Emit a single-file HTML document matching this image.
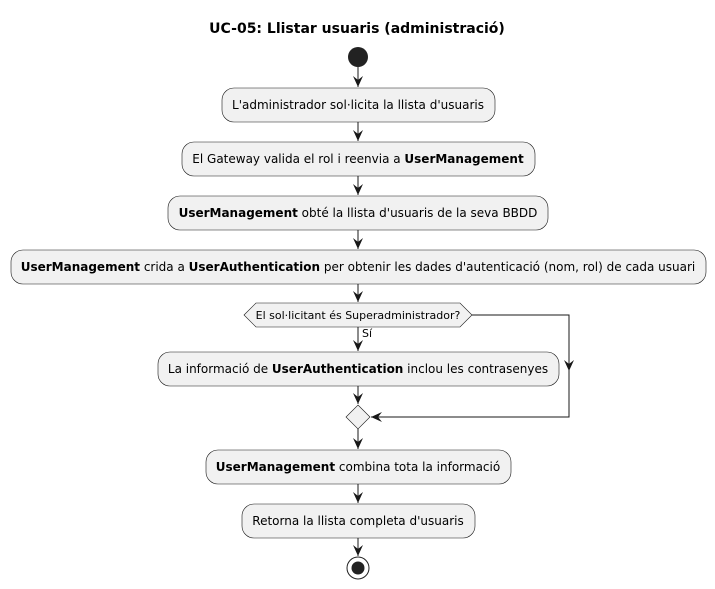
<!DOCTYPE html>
<html><head><meta charset="utf-8"><style>body{margin:0;background:#fff}svg{display:block}text{font-family:"DejaVu Sans","Liberation Sans",sans-serif;font-size:12px;fill:#000}</style></head><body>
<svg width="715" height="589" viewBox="0 0 715 589">
<defs><marker id="a" viewBox="0 0 12 12" refX="11" refY="6" markerWidth="12" markerHeight="12" orient="auto" markerUnits="userSpaceOnUse"><path d="M0,1 L11,6 L0,11 L4,6 Z" fill="#181818"/></marker></defs>
<text x="357" y="33" text-anchor="middle" style="font-size:14px;font-weight:bold">UC-05: Llistar usuaris (administració)</text>
<circle cx="358" cy="57" r="10" fill="#222"/>
<g stroke="#181818" stroke-width="1" fill="none">
<line x1="358" y1="67" x2="358" y2="87" marker-end="url(#a)"/>
<line x1="358" y1="122" x2="358" y2="141" marker-end="url(#a)"/>
<line x1="358" y1="176" x2="358" y2="195" marker-end="url(#a)"/>
<line x1="358" y1="230" x2="358" y2="249" marker-end="url(#a)"/>
<line x1="358" y1="284" x2="358" y2="302" marker-end="url(#a)"/>
<line x1="358" y1="327" x2="358" y2="351" marker-end="url(#a)"/>
<line x1="358" y1="386" x2="358" y2="404" marker-end="url(#a)"/>
<line x1="358" y1="429" x2="358" y2="449" marker-end="url(#a)"/>
<line x1="358" y1="484" x2="358" y2="503" marker-end="url(#a)"/>
<line x1="358" y1="538" x2="358" y2="556" marker-end="url(#a)"/>
<polyline points="472,315 569,315 569,417 371,417" marker-end="url(#a)"/>
<line x1="569" y1="350" x2="569" y2="371" marker-end="url(#a)"/>
</g>
<g fill="#f1f1f1" stroke="#181818" stroke-width="0.6">
<rect x="222" y="88" width="273" height="34" rx="12"/>
<rect x="182" y="142" width="353" height="34" rx="12"/>
<rect x="168" y="196" width="380" height="34" rx="12"/>
<rect x="11" y="250" width="695" height="34" rx="12"/>
<polygon points="244,315 256,303 460,303 472,315 460,327 256,327"/>
<rect x="158" y="352" width="401" height="34" rx="12"/>
<polygon points="358,405 370,417 358,429 346,417"/>
<rect x="206" y="450" width="305" height="34" rx="12"/>
<rect x="242" y="504" width="233" height="34" rx="12"/>
</g>
<text x="358" y="109" text-anchor="middle">L'administrador sol·licita la llista d'usuaris</text>
<text x="358" y="163" text-anchor="middle">El Gateway valida el rol i reenvia a <tspan font-weight="bold">UserManagement</tspan></text>
<text x="358" y="217" text-anchor="middle"><tspan font-weight="bold">UserManagement</tspan> obté la llista d'usuaris de la seva BBDD</text>
<text x="358" y="271" text-anchor="middle"><tspan font-weight="bold">UserManagement</tspan> crida a <tspan font-weight="bold">UserAuthentication</tspan> per obtenir les dades d'autenticació (nom, rol) de cada usuari</text>
<text x="358" y="319" text-anchor="middle" style="font-size:11px">El sol·licitant és Superadministrador?</text>
<text x="362" y="337" style="font-size:11px">Sí</text>
<text x="358" y="373" text-anchor="middle">La informació de <tspan font-weight="bold">UserAuthentication</tspan> inclou les contrasenyes</text>
<text x="358" y="471" text-anchor="middle"><tspan font-weight="bold">UserManagement</tspan> combina tota la informació</text>
<text x="358" y="525" text-anchor="middle">Retorna la llista completa d'usuaris</text>
<circle cx="358" cy="568" r="11" fill="none" stroke="#222" stroke-width="1"/>
<circle cx="358" cy="568" r="6.5" fill="#222"/>
</svg>
</body></html>
